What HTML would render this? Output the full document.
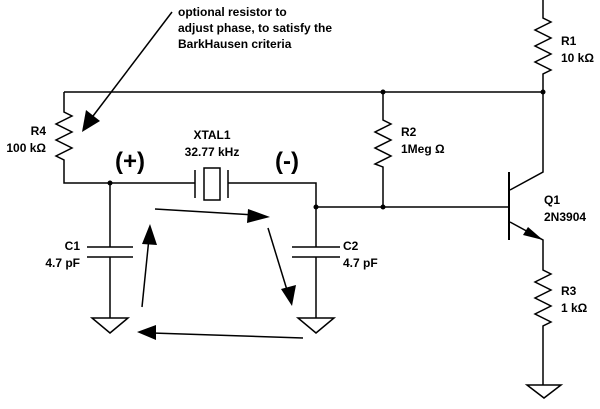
<!DOCTYPE html>
<html><head><style>body{margin:0;background:#fff}</style></head><body>
<svg width="600" height="404" viewBox="0 0 600 404" xmlns="http://www.w3.org/2000/svg" font-family="Liberation Sans, sans-serif" font-weight="bold" font-size="12">
<g stroke="#000" stroke-width="1.5" fill="none">
<!-- top wire -->
<path d="M64 92 H543"/>
<!-- R1 column -->
<path d="M543 0 V18 l8 4 l-16 8 l16 8 l-16 8 l16 8 l-16 8 l16 8 l-8 4 V172 L510 190"/>
<!-- transistor -->
<path d="M509 172 V240" stroke-width="2"/>
<path d="M316 207 H509"/>
<path d="M510 222 L543 240 V270 l8 4 l-16 8 l16 8 l-16 8 l16 8 l-16 8 l16 8 l-8 4 V385"/>
<path d="M527 385 H561 L544 398 Z"/>
<!-- R2 -->
<path d="M383 92 V120 l8 4 l-16 8 l16 8 l-16 8 l16 8 l-16 8 l8 3 V207"/>
<!-- R4 -->
<path d="M64 92 V112 l8 4 l-16 8 l16 8 l-16 8 l16 8 l-16 8 l8 4 V183 H195"/>
<!-- crystal -->
<path d="M195 170 V198 M228 170 V198"/>
<rect x="204" y="168" width="16" height="32"/>
<path d="M228 183 H316 V247"/>
<!-- C1 -->
<path d="M110 183 V247 M87 247 H133 M87 257 H133 M110 257 V318"/>
<path d="M92 318 H128 L110 333 Z"/>
<!-- C2 -->
<path d="M292 247 H340 M292 257 H340 M316 257 V318"/>
<path d="M298 318 H334 L316 333 Z"/>
<!-- arrows -->
<path d="M172 12 L90 120"/>
<path d="M155 209 L255 215"/>
<path d="M142 307 L149 238"/>
<path d="M268 228 L287 290"/>
<path d="M303 338 L152 333"/>
</g>
<g fill="#000">
<circle cx="543" cy="92" r="2.5"/><circle cx="383" cy="92" r="2.5"/><circle cx="383" cy="207" r="2.5"/>
<circle cx="110" cy="183" r="2.5"/><circle cx="316" cy="207" r="2.5"/>
<polygon points="82,132 86,110 100,121"/>
<polygon points="270,217 248,209 247,223"/>
<polygon points="150,224 142,244 157,245"/>
<polygon points="292,306 281,289 296,285"/>
<polygon points="137,332 156,325 156,340"/>
<polygon points="543,240 528,227 523,235"/>
<text x="178" y="16">optional resistor to</text>
<text x="178" y="32">adjust phase, to satisfy the</text>
<text x="178" y="48">BarkHausen criteria</text>
<text x="46" y="135" text-anchor="end">R4</text>
<text x="46" y="152" text-anchor="end">100 kΩ</text>
<text x="212" y="139" text-anchor="middle">XTAL1</text>
<text x="212" y="156" text-anchor="middle">32.77 kHz</text>
<text x="130" y="169" text-anchor="middle" font-size="24">(+)</text>
<text x="287" y="169" text-anchor="middle" font-size="24">(-)</text>
<text x="80" y="250" text-anchor="end">C1</text>
<text x="80" y="267" text-anchor="end">4.7 pF</text>
<text x="343" y="250">C2</text>
<text x="343" y="267">4.7 pF</text>
<text x="401" y="136">R2</text>
<text x="401" y="153">1Meg Ω</text>
<text x="561" y="45">R1</text>
<text x="561" y="62">10 kΩ</text>
<text x="544" y="204">Q1</text>
<text x="544" y="221">2N3904</text>
<text x="561" y="295">R3</text>
<text x="561" y="312">1 kΩ</text>
</g>
</svg>
</body></html>
